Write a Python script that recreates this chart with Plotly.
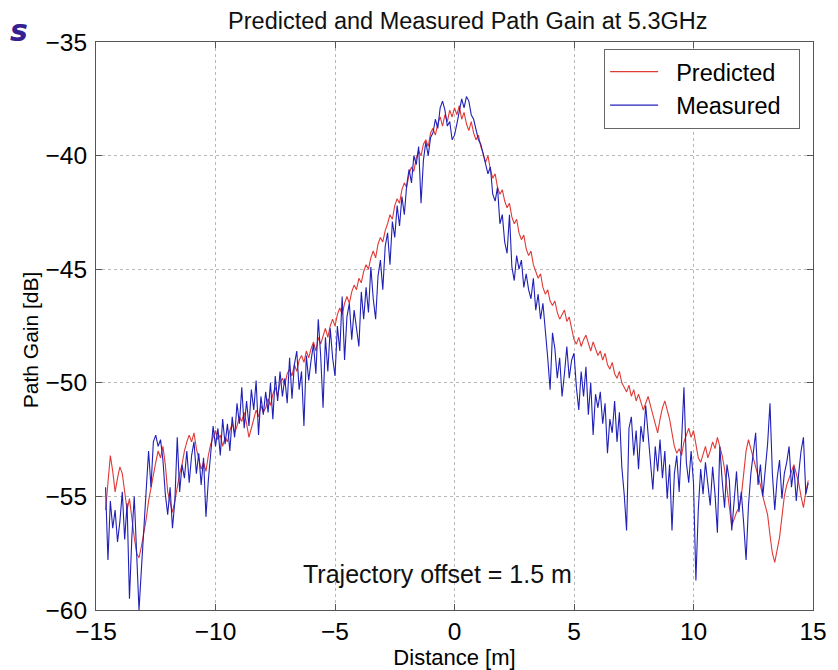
import numpy as np
import plotly.graph_objects as go

# Sample grid start/step (m)
x_start = -14.6
x_step = 0.1

predicted = [
    -55.6, -54.2, -53.2, -53.9, -54.8, -54.2, -53.7,
    -54.0, -54.9, -55.6, -55.1, -56.0, -56.8, -57.5, -57.7, -57.2, -56.6,
    -56.0, -55.2, -54.6, -54.0, -53.5, -53.0, -53.3, -52.8, -53.6, -54.8,
    -55.3, -55.7, -55.2, -54.6, -54.0, -53.6, -53.0, -52.6, -52.3, -52.6,
    -52.2, -52.9, -53.4, -53.8, -53.5, -53.9, -53.2, -52.7, -52.4, -52.1,
    -52.5, -52.3, -52.8, -52.4, -52.6, -52.1, -51.8, -52.2, -51.9, -51.5,
    -51.7, -51.3, -51.8, -52.4, -52.0, -51.6, -51.2, -51.5, -51.0, -51.3,
    -51.1, -50.7, -51.0, -50.5, -50.2, -50.6, -50.0, -49.8, -50.1, -49.6,
    -49.4, -49.7, -49.2, -49.5, -49.0, -48.8, -49.1, -48.6, -48.9, -48.5,
    -48.2, -48.6, -48.0, -48.3, -47.9, -47.6, -48.0, -47.5, -47.2, -47.5,
    -47.0, -46.7, -47.0, -46.5, -46.2, -46.5, -46.0, -45.7, -45.9, -45.4,
    -45.6, -45.1, -44.8, -45.0, -44.5, -44.2, -44.5, -43.9, -43.6, -43.8,
    -43.3, -43.0, -42.6, -42.8, -42.2, -41.9, -42.1, -41.5, -41.2, -41.4,
    -40.8, -40.5, -40.7, -40.1, -39.8, -40.0, -39.5, -39.3, -39.6, -39.0,
    -38.8, -39.1, -38.6, -38.3, -38.7, -38.2, -38.5, -38.0, -38.3, -37.9,
    -38.2, -37.8, -38.4, -38.1, -38.6, -38.9, -38.5, -39.0, -39.3, -39.1,
    -39.6, -39.9, -40.3, -40.0, -40.6, -41.0, -40.8, -41.4, -41.7, -41.5,
    -42.0, -42.3, -42.1, -42.7, -43.0, -42.8, -43.4, -43.7, -43.5, -44.1,
    -44.4, -44.2, -44.8, -45.1, -45.4, -45.2, -45.8, -46.1, -45.9, -46.4,
    -46.6, -46.4, -46.9, -47.2, -47.0, -46.8, -47.3, -47.1, -47.6, -48.1,
    -48.3, -48.0, -48.4, -48.1, -47.9, -48.3, -48.6, -48.2, -48.5, -48.8,
    -48.6, -49.0, -48.7, -49.2, -49.4, -49.1, -49.6, -49.8, -49.5, -50.0,
    -50.2, -50.4, -50.1, -50.6, -50.3, -50.8, -50.5, -50.9, -51.2, -50.9,
    -50.6, -51.0, -51.4, -51.8, -52.2, -51.6, -51.1, -50.8, -51.2, -51.6,
    -52.2, -52.8, -53.1, -52.9, -53.2, -52.6, -52.3, -52.0, -52.4, -52.1,
    -52.7, -53.3, -53.5, -53.1, -52.8, -53.3, -53.0, -52.6, -52.9, -52.4,
    -52.8, -53.2, -53.8, -54.6, -55.4, -56.3, -56.0, -55.7, -55.5, -55.0,
    -54.0, -53.0, -52.5, -52.9, -53.2, -53.7, -54.0, -54.5, -55.0, -55.4,
    -55.8, -56.7, -57.5, -57.9, -57.3, -56.8, -55.9, -55.0, -54.5, -54.2,
    -53.9, -53.6, -54.0, -54.4, -55.0, -55.5, -54.8, -54.3,
]

measured = [
    -54.6, -57.8, -55.2, -56.4, -55.6, -57.0, -56.1,
    -54.8, -56.9, -55.3, -59.5, -56.8, -55.0, -57.2, -60.0, -58.2, -56.5,
    -55.2, -53.0, -54.6, -52.6, -52.3, -52.8, -52.5, -53.4, -54.9, -55.8,
    -54.6, -56.4, -55.2, -52.4, -54.8, -53.6, -54.2, -53.0, -54.4, -53.2,
    -52.6, -54.0, -53.1, -54.5, -53.3, -55.9, -54.3, -53.0, -51.9, -52.8,
    -52.0, -53.2, -51.6, -52.7, -51.8, -53.0, -51.5, -52.4, -50.9, -51.8,
    -50.2, -52.0, -50.8, -51.9, -50.3, -51.2, -49.9, -52.3, -50.6, -51.4,
    -50.4, -51.3, -50.0, -51.6, -49.7, -50.8, -49.5, -50.6, -49.8, -50.9,
    -48.9, -50.7, -49.2, -48.6, -50.3, -49.5, -51.9, -48.8, -49.9, -49.0,
    -48.3, -49.6, -47.2, -48.8, -51.1, -48.0, -49.5, -47.6, -48.9, -49.7,
    -47.5, -48.6, -46.2, -49.0, -47.1, -46.5, -48.1, -46.8, -47.7, -48.4,
    -46.0, -47.2, -45.8, -46.9, -44.9, -46.3, -47.2, -45.3, -44.6, -45.9,
    -44.0, -43.4, -44.8, -42.9, -43.6, -42.2, -43.1, -41.8, -42.6, -41.3,
    -40.6, -41.2, -40.0, -40.4, -39.6, -42.1, -40.2, -39.4, -40.0, -39.2,
    -39.0, -38.4, -38.8, -37.9, -37.6, -38.0, -38.7, -38.5, -39.3, -39.1,
    -38.6, -38.0, -37.5, -37.9, -37.4, -37.6, -38.2, -38.4, -38.9, -39.3,
    -39.5, -39.9, -40.3, -40.8, -40.5, -41.7, -42.0, -41.4, -43.0, -42.6,
    -43.8, -44.3, -42.6, -44.9, -45.5, -44.4, -45.0, -44.6, -45.8, -45.2,
    -45.9, -46.3, -45.4, -46.8, -46.1, -47.2, -46.5, -47.6, -48.9, -50.3,
    -47.8, -48.5, -49.8, -48.9, -50.6, -49.6, -48.4, -49.8, -49.0, -48.7,
    -50.2, -51.2, -49.5, -50.6, -49.3, -51.4, -50.0, -52.3, -50.5, -51.1,
    -50.4, -51.8, -50.9, -53.1, -51.6, -52.2, -50.8, -52.6, -51.3, -53.7,
    -54.9, -56.5, -52.0, -51.5, -53.2, -52.1, -53.8, -51.9, -52.6, -51.0,
    -52.4, -53.5, -54.7, -52.8, -53.9, -52.5, -54.2, -53.0, -55.1, -53.6,
    -56.5, -54.0, -53.2, -54.8, -52.6, -50.2, -53.5, -54.4, -53.0, -54.4,
    -58.7, -55.6, -53.8, -54.9, -53.5, -54.6, -55.4, -53.7, -54.9, -56.6,
    -52.8, -54.3, -55.5, -53.6, -54.3, -56.5, -55.0, -53.9, -55.7, -54.8,
    -56.2, -57.8, -55.4, -54.0, -53.1, -52.2, -54.5, -53.6, -55.0, -53.9,
    -52.7, -50.9, -54.0, -55.6, -54.2, -53.4, -55.1, -54.0, -53.5, -52.8,
    -54.6, -53.7, -55.2, -54.0, -53.0, -52.4, -54.9, -54.4,
]

x_pred = np.round(x_start + x_step * np.arange(len(predicted)), 2)
x_meas = np.round(x_start + x_step * np.arange(len(measured)), 2)

x_ticks = [-15, -10, -5, 0, 5, 10, 15]
y_ticks = [-60, -55, -50, -45, -40, -35]

FONT = "Liberation Sans, Arial, Helvetica, sans-serif"
NB = "\u00a0"

fig = go.Figure()
fig.add_trace(go.Scatter(x=x_pred, y=predicted, mode="lines",
                         name=NB * 2 + "Predicted" + NB * 2,
                         line=dict(color="#e03a36", width=1.1)))
fig.add_trace(go.Scatter(x=x_meas, y=measured, mode="lines",
                         name=NB * 2 + "Measured" + NB * 2,
                         line=dict(color="#2020b8", width=1.1)))

axis_common = dict(
    showline=True, linecolor="#555555", linewidth=1, mirror="ticks",
    ticks="inside", ticklen=6, tickcolor="#555555",
    showgrid=True, gridcolor="#b8b8b8", griddash="dot", gridwidth=1,
    zeroline=False, tickfont=dict(size=24.5, color="black", family=FONT),
)

# The page body adds an 8px offset, so the figure is 830x662 and placed at (8, 8)
fig.update_layout(
    width=830, height=662,
    paper_bgcolor="white", plot_bgcolor="white",
    margin=dict(l=88, r=25, t=34, b=60, autoexpand=False),
    font=dict(family=FONT, color="black"),
    title=dict(text="Predicted and Measured Path Gain at 5.3GHz",
               x=0.554, xanchor="center", y=0.981, yanchor="middle",
               font=dict(size=23.5, family=FONT, color="#111111")),
    xaxis=dict(range=[-15, 15], tickvals=x_ticks, ticklabelstandoff=0,
               title=dict(text="Distance [m]", font=dict(size=22), standoff=3),
               **axis_common),
    yaxis=dict(range=[-60, -35], tickvals=y_ticks, ticklabelstandoff=3,
               **axis_common),
    legend=dict(x=0.982, y=0.988, xanchor="right", yanchor="top",
                bgcolor="white", bordercolor="#666666", borderwidth=1,
                font=dict(size=23.5, family=FONT), tracegroupgap=0,
                itemwidth=48),
    showlegend=True,
)

# y-axis title placed as rotated text (sits slightly below the axis centre in the original)
fig.add_annotation(x=-0.092, y=0.475, xref="paper", yref="paper",
                   xanchor="center", yanchor="middle", textangle=-90,
                   text="Path Gain [dB]", showarrow=False,
                   font=dict(size=21, family=FONT, color="black"))

fig.add_annotation(x=-0.7, y=-58.4, xref="x", yref="y",
                   text="Trajectory offset = 1.5 m", showarrow=False,
                   font=dict(size=25, family=FONT, color="#111111"))

fig.add_annotation(x=-0.123, y=1.02, xref="paper", yref="paper",
                   xanchor="left", yanchor="middle",
                   text="<b><i>s</i></b>", showarrow=False,
                   font=dict(size=30, family="DejaVu Sans", color="#35208f"))

fig.write_html("out.html")
